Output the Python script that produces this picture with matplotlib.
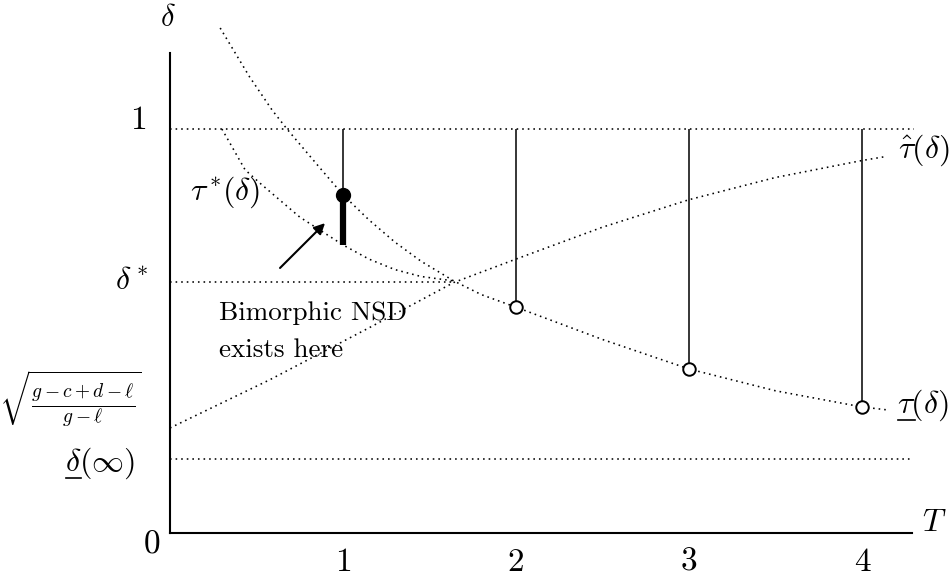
import matplotlib
matplotlib.use("Agg")
import matplotlib.pyplot as plt
from matplotlib.lines import Line2D

plt.rcParams['mathtext.fontset'] = 'cm'
plt.rcParams['font.family'] = ['cmr10', 'DejaVu Serif']
plt.rcParams['axes.unicode_minus'] = False

# values (x = T, y = delta)
T_steps = [1, 2, 3, 4]
delta_star = 0.622
delta_inf = 0.184

# upper decreasing curve, tau(delta)
tau_x = [0.29, 0.46, 0.59, 0.676, 0.85, 1.0, 1.15, 1.30, 1.45, 1.64, 1.80, 2.0, 2.5, 3.0, 3.5, 4.0, 4.14]
tau_y = [1.25, 1.129, 1.047, 1.0, 0.912, 0.837, 0.775, 0.72, 0.673, 0.624, 0.59, 0.559, 0.479, 0.406, 0.352, 0.312, 0.305]

# lower curve starting at delta = 1, tau*(delta)
tstar_x = [0.30, 0.434, 0.52, 0.75, 1.0, 1.15, 1.30, 1.45, 1.64]
tstar_y = [1.0, 0.899, 0.866, 0.782, 0.713, 0.678, 0.652, 0.635, 0.624]

# rising curve, tau-hat(delta)
that_x = [0.0, 0.58, 1.16, 1.64, 2.0, 2.5, 3.0, 3.5, 4.0, 4.14]
that_y = [0.26, 0.38, 0.51, 0.62, 0.678, 0.757, 0.825, 0.88, 0.922, 0.932]

# circles where the vertical lines stop
dot_filled = (1, 0.837)
open_y = [0.559, 0.406, 0.312]
bold_bottom = 0.713

fig = plt.figure(figsize=(9.52, 5.77), dpi=100)
ax = fig.add_axes([170 / 952, 44 / 577, 742 / 952, 480 / 577])
ax.set_xlim(0, 742 / 173)
ax.set_ylim(0, 480 / 404)

for s in ['top', 'right']:
    ax.spines[s].set_visible(False)
for s in ['left', 'bottom']:
    ax.spines[s].set_linewidth(1.5)
ax.set_xticks([])
ax.set_yticks([])

dot = dict(color='k', lw=1.15, linestyle=(0, (1, 2.5)), clip_on=False)

# horizontal reference lines
ax.plot([0, 4.30], [1, 1], **dot)
ax.plot([0, 1.65], [delta_star, delta_star], **dot)
ax.plot([0, 4.28], [delta_inf, delta_inf], **dot)

# curves
ax.plot(tau_x, tau_y, **dot)
ax.plot(tstar_x, tstar_y, **dot)
ax.plot(that_x, that_y, **dot)

# vertical lines from delta = 1 down to the curve
ax.vlines(T_steps[0], dot_filled[1], 1, color='k', lw=1.1)
ax.vlines(T_steps[1:], open_y, 1, color='k', lw=1.1)
ax.vlines(T_steps[0], bold_bottom, dot_filled[1], color='k', lw=4.5)

ax.plot(*dot_filled, 'o', color='k', ms=10)
ax.plot(T_steps[1:], open_y, 'o', mfc='white', mec='k', ms=9, mew=1.4)

# arrow and note
ax.annotate('', xy=(0.896, 0.767), xytext=(0.636, 0.656),
            arrowprops=dict(arrowstyle='-|>', color='k', lw=1.5,
                            mutation_scale=16, shrinkA=0, shrinkB=0))
ax.text(0.283, 0.527, 'Bimorphic NSD', fontsize=19.5, va='baseline')
ax.text(0.283, 0.436, 'exists here', fontsize=19.5, va='baseline')


def underlined(x, y, sym, rest, size):
    # mathtext has no \underline, so draw the bar by hand
    t = ax.text(x, y, '$' + sym + rest + '$', fontsize=size,
                ha='center', va='center', clip_on=False)
    r = fig.canvas.get_renderer()
    full = t.get_window_extent(r)
    tmp = ax.text(0, 0, '$' + sym + '$', fontsize=size)
    w = tmp.get_window_extent(r).width
    tmp.remove()
    yb = full.y0 + 3
    fig.add_artist(Line2D([full.x0 + 1, full.x0 + w], [yb, yb], color='k',
                          lw=1.2, transform=None))


# curve labels
ax.text(0.318, 0.844, r'$\tau^*\!(\delta)$', fontsize=23, ha='center', va='center')
ax.text(4.36, 0.948, r'$\hat{\tau}(\delta)$', fontsize=23, ha='center', va='center', clip_on=False)
underlined(4.35, 0.317, r'\tau', r'(\delta)', 23)

# axis labels
ax.text(-0.01, 1.275, r'$\delta$', fontsize=22, ha='center', va='center', clip_on=False)
ax.text(4.42, 0.025, r'$T$', fontsize=23, ha='center', va='center', clip_on=False)

# left side labels
ax.text(-0.185, 1.02, '1', fontsize=24, ha='center', va='center')
ax.text(-0.22, 0.623, r'$\delta^*$', fontsize=23, ha='center', va='center')
ax.text(-0.578, 0.332, r'$\sqrt{\frac{g-c+d-\ell}{g-\ell}}$', fontsize=20, ha='center', va='center')
underlined(-0.405, 0.173, r'\delta', r'(\infty)', 23)
ax.text(-0.104, -0.03, '0', fontsize=24, ha='center', va='center')

for t in T_steps:
    ax.text(t, -0.072, str(t), fontsize=24, ha='center', va='center')

fig.savefig('out.png', dpi=100)
